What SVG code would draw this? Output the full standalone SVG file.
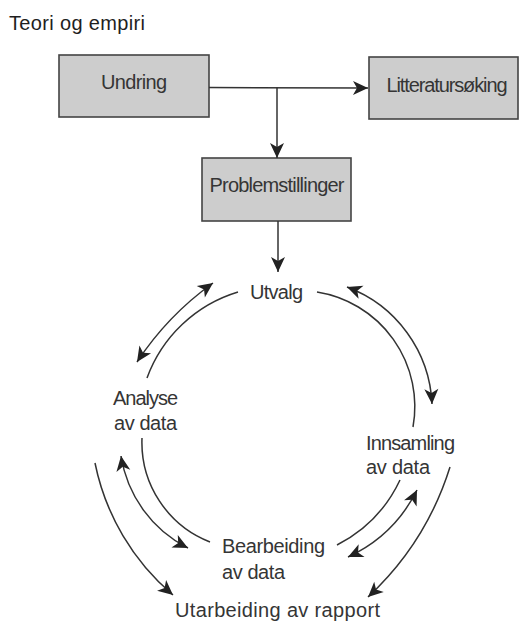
<svg xmlns="http://www.w3.org/2000/svg" width="530" height="630" viewBox="0 0 530 630">
<style>
  .bg { fill: #ffffff; }
  .box { fill: #cdcdcd; stroke: #444444; stroke-width: 1.6; }
  .lbl { font-family: "Liberation Sans", Arial, sans-serif; font-size: 20px; fill: #353535; }
  .ttl { font-family: "Liberation Sans", Arial, sans-serif; font-size: 20px; fill: #1e1e1e; }
  .con { fill: none; stroke: #333333; stroke-width: 1.5; }
</style>
<defs>
  <marker id="ah" markerUnits="userSpaceOnUse" markerWidth="18" markerHeight="18" viewBox="-16 -9 18 18" refX="0" refY="0" orient="auto-start-reverse">
    <path d="M0,0 L-15,-7 L-11,0 L-15,7 Z" fill="#222222"/>
  </marker>
</defs>
<rect class="bg" x="0" y="0" width="530" height="630"/>
<text class="ttl" x="9" y="30" textLength="136">Teori og empiri</text>

<g id="undring">
  <rect class="box" x="59" y="55" width="150" height="62"/>
  <text class="lbl" x="134" y="89" text-anchor="middle" textLength="66">Undring</text>
</g>
<g id="litteratursoking">
  <rect class="box" x="369" y="57" width="149" height="62"/>
  <text class="lbl" x="447" y="92" text-anchor="middle" textLength="121">Litteratursøking</text>
</g>
<g id="problemstillinger">
  <rect class="box" x="202" y="158" width="149" height="63"/>
  <text class="lbl" x="277" y="192" text-anchor="middle" textLength="135">Problemstillinger</text>
</g>
<g id="utvalg">
  <text class="lbl" x="250" y="299" textLength="53">Utvalg</text>
</g>
<g id="analyse">
  <text class="lbl" x="113" y="405" textLength="65">Analyse</text>
  <text class="lbl" x="114" y="430" textLength="63">av data</text>
</g>
<g id="innsamling">
  <text class="lbl" x="366" y="450" textLength="89">Innsamling</text>
  <text class="lbl" x="366" y="474" textLength="64">av data</text>
</g>
<g id="bearbeiding">
  <text class="lbl" x="222" y="553" textLength="103">Bearbeiding</text>
  <text class="lbl" x="222" y="579" textLength="63">av data</text>
</g>
<g id="utarbeiding">
  <text class="lbl" x="175" y="617" textLength="205">Utarbeiding av rapport</text>
</g>

<g id="connectors">
  <path class="con" d="M209,87.5 L368,88" marker-end="url(#ah)"/>
  <path class="con" d="M277,87.5 L277,158" marker-end="url(#ah)"/>
  <path class="con" d="M278,221 L278,272" marker-end="url(#ah)"/>

  <path class="con" d="M238,292 A140,140 0 0 0 147,378"/>
  <path class="con" d="M213,283 A300,300 0 0 0 137,362" marker-start="url(#ah)" marker-end="url(#ah)"/>

  <path class="con" d="M317,292 A116,116 0 0 1 413,427"/>
  <path class="con" d="M347,287 A131,131 0 0 1 432,404" marker-start="url(#ah)" marker-end="url(#ah)"/>

  <path class="con" d="M142,438 A107,107 0 0 0 210,542"/>
  <path class="con" d="M121,456 A125,125 0 0 0 188,548" marker-start="url(#ah)" marker-end="url(#ah)"/>
  <path class="con" d="M95,463 A234,234 0 0 0 173,595" marker-end="url(#ah)"/>

  <path class="con" d="M400,480 A140,140 0 0 1 337,545"/>
  <path class="con" d="M417,490 A145,145 0 0 1 348,557" marker-start="url(#ah)" marker-end="url(#ah)"/>
  <path class="con" d="M450,467 A300,300 0 0 1 368,597" marker-end="url(#ah)"/>
</g>
</svg>
